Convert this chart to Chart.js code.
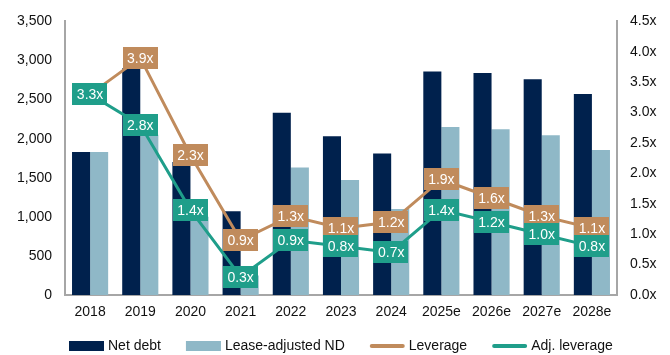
<!DOCTYPE html>
<html>
<head>
<meta charset="utf-8">
<script src="https://cdn.jsdelivr.net/npm/chart.js@4/dist/chart.umd.min.js"></script>
<style>
  html, body { margin: 0; padding: 0; background: #fff; }
  #wrap { width: 670px; height: 355px; }
</style>
</head>
<body>
<div id="wrap"><canvas id="myChart" width="670" height="355"></canvas></div>
<script>
// years on the x axis
var years = ['2018', '2019', '2020', '2021', '2022', '2023', '2024', '2025e', '2026e', '2027e', '2028e'];

// net debt and lease-adjusted net debt (left axis)
var netDebt = [1830, 2900, 1700, 1070, 2330, 2030, 1810, 2860, 2840, 2760, 2570];
var leaseAdjNd = [1830, 2050, 1000, 250, 1630, 1470, 1100, 2150, 2120, 2045, 1855];

// leverage multiples (right axis)
var leverage = [3.3, 3.9, 2.3, 0.9, 1.3, 1.1, 1.2, 1.9, 1.6, 1.3, 1.1];
var adjLeverage = [3.3, 2.8, 1.4, 0.3, 0.9, 0.8, 0.7, 1.4, 1.2, 1.0, 0.8];

var NAVY = '#00214d';
var LIGHT = '#8fb8c7';
var TAN = '#c08b5c';
var TEAL = '#1f9e8a';
var FONT = 'Liberation Sans, Arial, sans-serif';

// boxed value labels on the leverage lines
var boxLabels = {
	id: 'boxLabels',
	afterDatasetsDraw: function (chart) {
		var ctx = chart.ctx;
		ctx.save();
		ctx.font = '14px ' + FONT;
		ctx.textAlign = 'center';
		ctx.textBaseline = 'middle';
		chart.data.datasets.forEach(function (ds, i) {
			if (ds.type !== 'line') return;
			var meta = chart.getDatasetMeta(i);
			meta.data.forEach(function (pt, j) {
				var txt = ds.data[j].toFixed(1) + 'x';
				var w = ctx.measureText(txt).width + 9;
				var h = 22;
				ctx.fillStyle = ds.borderColor;
				ctx.fillRect(Math.round(pt.x - w / 2), Math.round(pt.y - h / 2), Math.round(w), h);
				ctx.fillStyle = '#ffffff';
				ctx.fillText(txt, pt.x, pt.y + 1);
			});
		});
		ctx.restore();
	}
};

// legend row under the axis: bar swatches first, then line swatches
var legendRow = {
	id: 'legendRow',
	afterDraw: function (chart) {
		var ctx = chart.ctx;
		var order = [2, 3, 0, 1];
		var swatch = 35, gap = 4, spacing = 25;
		ctx.save();
		ctx.font = '14px ' + FONT;
		ctx.textBaseline = 'middle';
		var total = 0;
		order.forEach(function (i, k) {
			total += swatch + gap + ctx.measureText(chart.data.datasets[i].label).width;
			if (k < order.length - 1) total += spacing;
		});
		var area = chart.chartArea;
		var x = Math.round((area.left + area.right) / 2 - total / 2);
		var y = 346;
		order.forEach(function (i) {
			var ds = chart.data.datasets[i];
			if (ds.type === 'line') {
				ctx.strokeStyle = ds.borderColor;
				ctx.lineWidth = 4;
				ctx.lineCap = 'round';
				ctx.beginPath();
				ctx.moveTo(x + 2, y);
				ctx.lineTo(x + swatch - 2, y);
				ctx.stroke();
			} else {
				ctx.fillStyle = ds.backgroundColor;
				ctx.fillRect(x, y - 5, swatch, 10);
			}
			x += swatch + gap;
			ctx.fillStyle = '#111';
			ctx.fillText(ds.label, x, y);
			x += ctx.measureText(ds.label).width + spacing;
		});
		ctx.restore();
	}
};

var ctx = document.getElementById('myChart').getContext('2d');
var chart = new Chart(ctx, {
	type: 'bar',
	data: {
		labels: years,
		datasets: [{
			type: 'line',
			label: 'Leverage',
			data: leverage,
			yAxisID: 'y1',
			borderColor: TAN,
			backgroundColor: TAN,
			borderWidth: 3,
			pointRadius: 0,
			tension: 0,
			order: 1
		}, {
			type: 'line',
			label: 'Adj. leverage',
			data: adjLeverage,
			yAxisID: 'y1',
			borderColor: TEAL,
			backgroundColor: TEAL,
			borderWidth: 3,
			pointRadius: 0,
			tension: 0,
			order: 0
		}, {
			label: 'Net debt',
			data: netDebt,
			yAxisID: 'y',
			backgroundColor: NAVY,
			categoryPercentage: 0.72,
			barPercentage: 1.0,
			order: 2
		}, {
			label: 'Lease-adjusted ND',
			data: leaseAdjNd,
			yAxisID: 'y',
			backgroundColor: LIGHT,
			categoryPercentage: 0.72,
			barPercentage: 1.0,
			order: 3
		}]
	},
	options: {
		responsive: false,
		animation: false,
		layout: { padding: { top: 18, left: 0, right: 0, bottom: 30 } },
		plugins: {
			tooltip: { enabled: false },
			legend: { display: false }
		},
		scales: {
			x: {
				grid: { display: false, drawTicks: false },
				border: { display: true, color: '#a6a6a6', width: 2 },
				ticks: { color: '#111', padding: 9, font: { family: FONT, size: 14 } },
				afterFit: function (s) { s.height = 30; }
			},
			y: {
				position: 'left',
				min: 0,
				max: 3500,
				grid: { display: false, drawTicks: false },
				border: { display: true, color: '#a6a6a6', width: 2 },
				ticks: {
					stepSize: 500,
					color: '#111',
					padding: 13,
					font: { family: FONT, size: 14 },
					callback: function (v) { return v.toLocaleString('en-US'); }
				},
				afterFit: function (s) { s.width = 65; }
			},
			y1: {
				position: 'right',
				min: 0,
				max: 4.5,
				grid: { display: false, drawTicks: false },
				border: { display: true, color: '#a6a6a6', width: 2 },
				ticks: {
					stepSize: 0.5,
					color: '#111',
					padding: 13,
					font: { family: FONT, size: 14 },
					callback: function (v) { return v.toFixed(1) + 'x'; }
				},
				afterFit: function (s) { s.width = 53; }
			}
		}
	},
	plugins: [boxLabels, legendRow]
});
</script>
</body>
</html>
